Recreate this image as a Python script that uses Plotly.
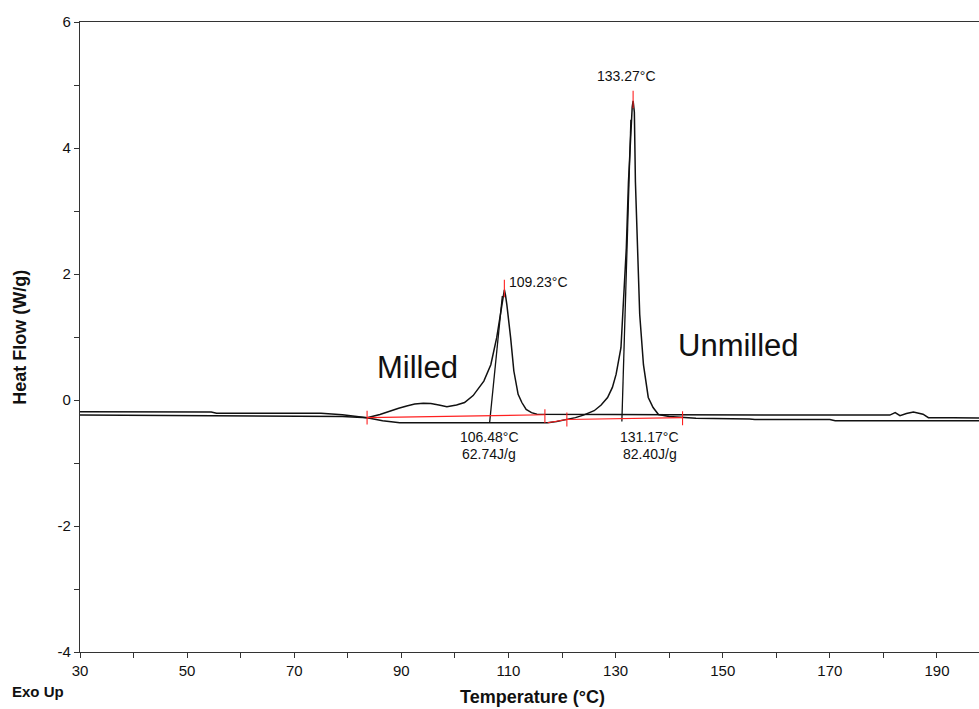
import plotly.graph_objects as go

# DSC traces: temperature (°C) vs heat flow (W/g), exo up
milled_T = [30, 54.5, 55.5, 75, 79, 83.6, 86, 87.9, 89.5, 91, 92.5, 94.1, 95.5, 97, 98.5,
            100.3, 101.8, 103.4, 105.4, 106.7, 107.8, 108.5, 109.0, 109.23, 109.45, 109.7,
            110.4, 111.0, 111.8, 112.5, 113.3, 114.3, 115.3, 120, 130, 140, 150, 160, 170,
            181.2, 182.2, 183.1, 184.3, 185.6, 187.4, 188.4, 193, 198]
milled_hf = [-0.185, -0.19, -0.21, -0.21, -0.235, -0.28, -0.23, -0.17, -0.13, -0.095, -0.065,
             -0.05, -0.055, -0.08, -0.105, -0.08, -0.04, 0.07, 0.30, 0.56, 0.99, 1.36, 1.62,
             1.75, 1.66, 1.51, 0.99, 0.46, 0.09, -0.04, -0.15, -0.20, -0.225, -0.23, -0.23,
             -0.235, -0.235, -0.24, -0.24, -0.24, -0.20, -0.25, -0.215, -0.19, -0.225, -0.28,
             -0.28, -0.285]

unmilled_T = [30, 54.5, 55.5, 75, 79, 83.6, 86.5, 89.7, 100, 110, 117.3, 119, 120.9, 122.5,
              124, 126.0, 127.3, 128.5, 129.4, 130.1, 131.0, 131.5, 132.0, 132.4, 132.9,
              133.1, 133.27, 133.5, 133.7, 134.1, 134.5, 135.2, 136.1, 137.0, 138.0, 140,
              145, 155, 156, 170, 171, 198]
unmilled_hf = [-0.24, -0.245, -0.25, -0.25, -0.26, -0.28, -0.33, -0.36, -0.36, -0.36, -0.36,
               -0.34, -0.31, -0.28, -0.24, -0.17, -0.08, 0.04, 0.2, 0.41, 0.83, 1.62, 2.41,
               3.46, 4.41, 4.65, 4.75, 4.57, 3.46, 2.41, 1.36, 0.56, 0.04, -0.12, -0.23,
               -0.26, -0.29, -0.30, -0.31, -0.31, -0.33, -0.33]

# integration results
milled_peak = (109.23, 1.75)
unmilled_peak = (133.27, 4.75)
milled_onset = 106.48
unmilled_onset = 131.17
milled_enthalpy = 62.74
unmilled_enthalpy = 82.40

# onset tangents (start on baseline, end on leading edge)
milled_tangent_T = [106.48, 108.85]
milled_tangent_hf = [-0.36, 1.65]
unmilled_tangent_T = [131.17, 132.85]
unmilled_tangent_hf = [-0.34, 4.45]

# integration baselines and limits
milled_base_T = [83.6, 116.8]
milled_base_hf = [-0.28, -0.235]
unmilled_base_T = [117.3, 120.9, 142.5]
unmilled_base_hf = [-0.36, -0.31, -0.28]
limit_T = [83.6, 116.8, 120.9, 142.5]
limit_hf = [-0.28, -0.255, -0.31, -0.29]

x_ticks = [30, 50, 70, 90, 110, 130, 150, 170, 190]
y_ticks = [-4, -2, 0, 2, 4, 6]

FONT = "Liberation Sans, Arial, sans-serif"
BLACK = "#111111"
RED = "#ff2020"

fig = go.Figure()

for T, hf in [(milled_T, milled_hf), (unmilled_T, unmilled_hf)]:
    fig.add_trace(go.Scatter(x=T, y=hf, mode="lines",
                             line=dict(color=BLACK, width=1.5), hoverinfo="skip"))

for T, hf in [(milled_tangent_T, milled_tangent_hf), (unmilled_tangent_T, unmilled_tangent_hf)]:
    fig.add_trace(go.Scatter(x=T, y=hf, mode="lines",
                             line=dict(color=BLACK, width=1.3), hoverinfo="skip"))

for T, hf in [(milled_base_T, milled_base_hf), (unmilled_base_T, unmilled_base_hf)]:
    fig.add_trace(go.Scatter(x=T, y=hf, mode="lines",
                             line=dict(color=RED, width=1.1), hoverinfo="skip"))

# short red limit marks on the baselines
tick_x, tick_y = [], []
for t, h in zip(limit_T, limit_hf):
    tick_x += [t, t, None]
    tick_y += [h - 0.11, h + 0.11, None]
# red marks above each peak maximum
for t, h in [milled_peak, unmilled_peak]:
    tick_x += [t, t, None]
    tick_y += [h - 0.12, h + 0.16, None]
fig.add_trace(go.Scatter(x=tick_x, y=tick_y, mode="lines",
                         line=dict(color=RED, width=1.1), hoverinfo="skip"))

small = dict(family=FONT, size=14, color=BLACK)
big = dict(family=FONT, size=31, color=BLACK)
title_font = dict(family=FONT, size=18, color=BLACK)
ann = [
    dict(x=milled_peak[0] + 0.5, y=milled_peak[1] + 0.12, text=f"{milled_peak[0]:.2f}°C",
         xanchor="left", yanchor="middle", font=small),
    dict(x=unmilled_peak[0] - 1.2, y=unmilled_peak[1] + 0.39, text=f"{unmilled_peak[0]:.2f}°C",
         xanchor="center", yanchor="middle", font=small),
    dict(x=milled_onset - 0.1, y=-0.585, text=f"{milled_onset:.2f}°C",
         xanchor="center", yanchor="middle", font=small),
    dict(x=milled_onset - 0.2, y=-0.855, text=f"{milled_enthalpy:.2f}J/g",
         xanchor="center", yanchor="middle", font=small),
    dict(x=unmilled_onset + 5.2, y=-0.585, text=f"{unmilled_onset:.2f}°C",
         xanchor="center", yanchor="middle", font=small),
    dict(x=unmilled_onset + 5.2, y=-0.855, text=f"{unmilled_enthalpy:.2f}J/g",
         xanchor="center", yanchor="middle", font=small),
    dict(x=93.1, y=0.52, text="Milled", xanchor="center", yanchor="middle", font=big),
    dict(x=152.9, y=0.87, text="Unmilled", xanchor="center", yanchor="middle", font=big),
    dict(xref="paper", yref="paper", x=-0.067, y=0.5, text="<b>Heat Flow (W/g)</b>",
         textangle=-90, xanchor="center", yanchor="middle", font=title_font),
    dict(xref="paper", yref="paper", x=0.503, y=-0.0714, text="<b>Temperature (°C)</b>",
         xanchor="center", yanchor="middle", font=title_font),
    dict(xref="paper", yref="paper", x=-0.078, y=-0.063, text="<b>Exo Up</b>",
         xanchor="left", yanchor="middle", font=dict(family=FONT, size=15, color=BLACK)),
]
for a in ann:
    a.setdefault("showarrow", False)
    fig.add_annotation(**a)

fig.update_layout(
    width=979, height=709,
    margin=dict(l=80, r=0, t=22, b=57),
    paper_bgcolor="white", plot_bgcolor="white",
    showlegend=False,
    font=dict(family=FONT, size=15, color=BLACK),
)
fig.update_xaxes(
    range=[30, 30 + 899 / 5.356], tickvals=x_ticks, ticktext=[str(v) for v in x_ticks],
    showgrid=False, zeroline=False, showline=True, linecolor="#333", linewidth=1.2,
    mirror=True, ticks="outside", ticklen=5, tickcolor="#333",
    minor=dict(tickvals=[40, 60, 80, 100, 120, 140, 160, 180], ticks="outside", ticklen=5,
               tickcolor="#333"),
    tickfont=dict(family=FONT, size=15, color=BLACK),
)
fig.update_yaxes(
    range=[-4, 6], tickvals=y_ticks, ticktext=[str(v) for v in y_ticks],
    showgrid=False, zeroline=False, showline=True, linecolor="#333", linewidth=1.2,
    ticks="outside", ticklen=5, tickcolor="#333",
    minor=dict(tickvals=[-3, -1, 1, 3, 5], ticks="outside", ticklen=5, tickcolor="#333"),
    tickfont=dict(family=FONT, size=15, color=BLACK),
)

fig.write_html("out.html")
